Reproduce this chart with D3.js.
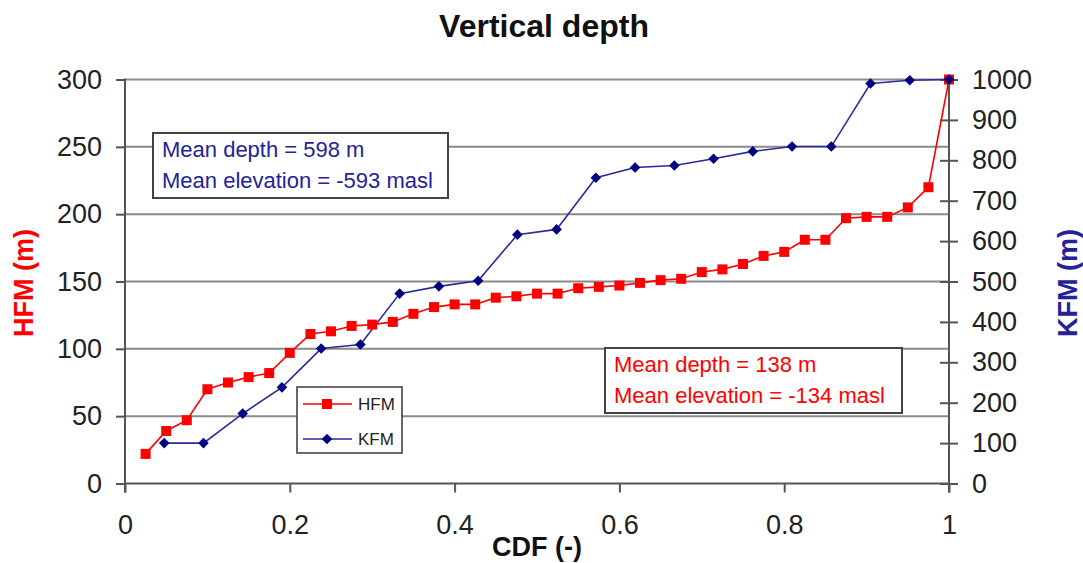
<!DOCTYPE html>
<html>
<head>
<meta charset="utf-8">
<script src="https://cdn.jsdelivr.net/npm/d3@7"></script>
<style>
  html, body { margin: 0; padding: 0; background: #fff; }
  svg { display: block; font-family: "Liberation Sans", Arial, sans-serif; }
</style>
</head>
<body>
<svg id="chart" width="1083" height="563"></svg>
<script>
// Cumulative distribution of vertical depth, HFM (left axis) and KFM (right axis)
const hfmDepth = [22, 39, 47, 70, 75, 79, 82, 97, 111, 113, 117, 118, 120, 126, 131, 133, 133, 138, 139, 141,
                  141, 145, 146, 147, 149, 151, 152, 157, 159, 163, 169, 172, 181, 181, 197, 198, 198, 205, 220, 300];
const kfmDepth = [100, 100, 173, 238, 334, 344, 470, 488, 502, 616, 629, 757, 782, 787, 804, 822, 834, 834, 990, 998, 1000];

// CDF positions: i / n for each sorted sample
const hfmCdf = hfmDepth.map((_, i) => (i + 1) / hfmDepth.length);
const kfmCdf = kfmDepth.map((_, i) => (i + 1) / kfmDepth.length);

const xTicks = [0, 0.2, 0.4, 0.6, 0.8, 1];
const leftTicks = [0, 50, 100, 150, 200, 250, 300];
const rightTicks = [0, 100, 200, 300, 400, 500, 600, 700, 800, 900, 1000];

const titleText = "Vertical depth";
const xTitle = "CDF (-)";
const leftTitle = "HFM (m)";
const rightTitle = "KFM (m)";
const kfmNote = ["Mean depth = 598 m", "Mean elevation = -593 masl"];
const hfmNote = ["Mean depth = 138 m", "Mean elevation = -134 masl"];

const RED = "#ff0000";
const NAVY = "#000080";
const NAVY_TEXT = "#22229a";

const svg = d3.select("#chart");
const plot = { left: 125, right: 949, top: 79.5, bottom: 483.5 };

const x = d3.scaleLinear().domain([0, 1]).range([plot.left, plot.right]);
const yL = d3.scaleLinear().domain([0, 300]).range([plot.bottom, plot.top]);
const yR = d3.scaleLinear().domain([0, 1000]).range([plot.bottom, plot.top]);

// Title
svg.append("text")
  .attr("x", 544).attr("y", 37)
  .attr("text-anchor", "middle")
  .attr("font-size", 32).attr("font-weight", "bold")
  .attr("fill", "#111")
  .text(titleText);

// Horizontal gridlines at left-axis ticks
svg.append("g").selectAll("line")
  .data(leftTicks.filter(d => d > 0))
  .join("line")
  .attr("x1", plot.left).attr("x2", plot.right)
  .attr("y1", d => yL(d)).attr("y2", d => yL(d))
  .attr("stroke", "#8a8a8a").attr("stroke-width", 2);

// Left axis
const leftAxis = svg.append("g")
  .attr("transform", `translate(${plot.left},0)`)
  .call(d3.axisLeft(yL).tickValues(leftTicks).tickSize(9).tickPadding(14).tickFormat(d3.format("d")));
leftAxis.select(".domain").attr("stroke", "#555").attr("stroke-width", 2).attr("d", `M0,${plot.top - 1}V${plot.bottom + 9}`);
leftAxis.selectAll(".tick line").attr("stroke", "#555").attr("stroke-width", 2);
leftAxis.selectAll(".tick text").attr("font-size", 27).attr("fill", "#222").attr("font-family", null);

// Right axis: ticks cross the axis line
const rightAxis = svg.append("g")
  .attr("transform", `translate(${plot.right},0)`)
  .call(d3.axisRight(yR).tickValues(rightTicks).tickSize(9).tickPadding(14).tickFormat(d3.format("d")));
rightAxis.select(".domain").attr("stroke", "#555").attr("stroke-width", 2).attr("d", `M0,${plot.top - 1}V${plot.bottom + 9}`);
rightAxis.selectAll(".tick line").attr("stroke", "#555").attr("stroke-width", 2).attr("x1", -9);
rightAxis.selectAll(".tick text").attr("font-size", 27).attr("fill", "#222").attr("font-family", null);

// Bottom axis
const bottomAxis = svg.append("g")
  .attr("transform", `translate(0,${plot.bottom})`)
  .call(d3.axisBottom(x).tickValues(xTicks).tickSize(9).tickPadding(22).tickFormat(d => d === 0 || d === 1 ? d3.format("d")(d) : d3.format(".1f")(d)));
bottomAxis.select(".domain").attr("stroke", "#555").attr("stroke-width", 2).attr("d", `M${plot.left},0H${plot.right}`);
bottomAxis.selectAll(".tick line").attr("stroke", "#555").attr("stroke-width", 2);
bottomAxis.selectAll(".tick text").attr("font-size", 27).attr("fill", "#222").attr("font-family", null);

// Axis titles
svg.append("text")
  .attr("x", 537).attr("y", 556)
  .attr("text-anchor", "middle")
  .attr("font-size", 27).attr("font-weight", "bold").attr("fill", "#111")
  .text(xTitle);

svg.append("text")
  .attr("transform", `translate(33,283) rotate(-90)`)
  .attr("text-anchor", "middle")
  .attr("font-size", 27).attr("font-weight", "bold").attr("fill", RED)
  .text(leftTitle);

svg.append("text")
  .attr("transform", `translate(1077,283) rotate(-90)`)
  .attr("text-anchor", "middle")
  .attr("font-size", 27).attr("font-weight", "bold").attr("fill", NAVY_TEXT)
  .text(rightTitle);

// Series lines
const hfmLine = d3.line().x((d, i) => x(hfmCdf[i])).y(d => yL(d));
const kfmLine = d3.line().x((d, i) => x(kfmCdf[i])).y(d => yR(d));

svg.append("path").datum(kfmDepth)
  .attr("d", kfmLine).attr("fill", "none")
  .attr("stroke", "#2a2aa0").attr("stroke-width", 1.6);

svg.append("path").datum(hfmDepth)
  .attr("d", hfmLine).attr("fill", "none")
  .attr("stroke", RED).attr("stroke-width", 1.6);

// Markers: squares for HFM, squares turned 45° (diamonds) for KFM
const square = d3.symbol().type(d3.symbolSquare).size(100);
const diamond = d3.symbol().type(d3.symbolSquare).size(56);

svg.append("g").selectAll("path")
  .data(hfmDepth)
  .join("path")
  .attr("d", square)
  .attr("transform", (d, i) => `translate(${x(hfmCdf[i])},${yL(d)})`)
  .attr("fill", RED);

svg.append("g").selectAll("path")
  .data(kfmDepth)
  .join("path")
  .attr("d", diamond)
  .attr("transform", (d, i) => `translate(${x(kfmCdf[i])},${yR(d)}) rotate(45)`)
  .attr("fill", NAVY);

// Annotation boxes with mean values
function noteBox(left, top, w, h, lines, color) {
  const g = svg.append("g");
  g.append("rect")
    .attr("x", left).attr("y", top).attr("width", w).attr("height", h)
    .attr("fill", "#fff").attr("stroke", "#444").attr("stroke-width", 2);
  g.selectAll("text")
    .data(lines)
    .join("text")
    .attr("x", left + 9)
    .attr("y", (d, i) => top + 24 + i * 31)
    .attr("font-size", 22)
    .attr("fill", color)
    .text(d => d);
}
noteBox(153, 133, 295, 65, kfmNote, NAVY_TEXT);
noteBox(605, 348, 297, 65, hfmNote, RED);

// Legend
const legend = svg.append("g").attr("transform", "translate(297,387)");
legend.append("rect")
  .attr("width", 105).attr("height", 66)
  .attr("fill", "#fff").attr("stroke", "#444").attr("stroke-width", 1.6);
const legendItems = [
  { name: "HFM", color: RED, stroke: RED, sym: square, rot: 0, y: 17 },
  { name: "KFM", color: NAVY, stroke: "#2a2aa0", sym: diamond, rot: 45, y: 52 }
];
legendItems.forEach(it => {
  legend.append("line")
    .attr("x1", 6).attr("x2", 55).attr("y1", it.y).attr("y2", it.y)
    .attr("stroke", it.stroke).attr("stroke-width", 1.6);
  legend.append("path")
    .attr("d", it.sym)
    .attr("transform", `translate(30,${it.y}) rotate(${it.rot})`)
    .attr("fill", it.color);
  legend.append("text")
    .attr("x", 61).attr("y", it.y + 6)
    .attr("font-size", 17).attr("fill", "#222")
    .text(it.name);
});
</script>
</body>
</html>
